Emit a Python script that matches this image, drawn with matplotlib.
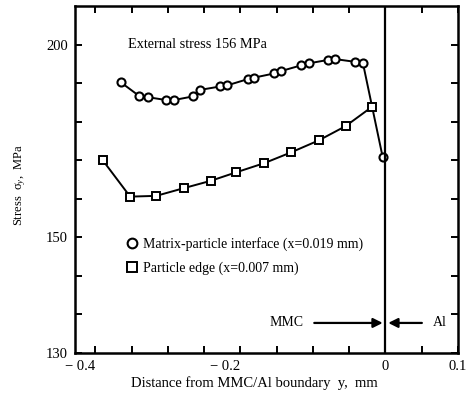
import numpy as np
import matplotlib
matplotlib.use('Agg')
from matplotlib import pyplot as plt

plt.rcParams['font.family'] = ['Liberation Serif', 'DejaVu Serif']
plt.rcParams['mathtext.fontset'] = 'custom'
plt.rcParams['mathtext.rm'] = 'Liberation Serif'
plt.rcParams['mathtext.it'] = 'Liberation Serif:italic'

# matrix-particle interface (circles)
circ_x = [-0.365, -0.340, -0.327, -0.303, -0.291, -0.266, -0.256, -0.228, -0.218,
          -0.190, -0.181, -0.153, -0.144, -0.116, -0.106, -0.079, -0.069, -0.042,
          -0.031, -0.004]
circ_y = [190.3, 186.8, 186.4, 185.7, 185.7, 186.6, 188.3, 189.2, 189.5,
          191.1, 191.5, 192.6, 193.2, 194.7, 195.2, 196.1, 196.3, 195.6,
          195.2, 171.0]

# particle edge (squares)
sq_x = [-0.390, -0.352, -0.316, -0.278, -0.241, -0.206, -0.167, -0.130, -0.092,
        -0.055, -0.018]
sq_y = [170.1, 160.6, 160.8, 162.8, 164.7, 166.9, 169.3, 172.1, 175.2,
        178.9, 184.0]

x_ticks = [-0.4, -0.35, -0.3, -0.25, -0.2, -0.15, -0.1, -0.05, 0, 0.05, 0.1]
x_labels = ['\u2212 0.4', '', '', '', '\u2212 0.2', '', '', '', '0', '', '0.1']
y_ticks = [130, 136.67, 143.33, 150, 160, 170, 180, 190, 200]
y_labels = ['130', '', '', '150', '', '', '', '', '200']


# the axis is squeezed below 150 (three ticks for 20 MPa)
def fwd(v):
    v = np.asarray(v, dtype=float)
    return np.where(v >= 150, v, 150 - (150 - v) * 1.5)


def inv(u):
    u = np.asarray(u, dtype=float)
    return np.where(u >= 150, u, 150 - (150 - u) / 1.5)


fig = plt.figure(figsize=(4.7, 3.94), dpi=100)
ax = fig.add_axes([0.1596, 0.1041, 0.8149, 0.8807])
ax.set_yscale('function', functions=(fwd, inv))

ax.plot(circ_x, circ_y, '-o', color='black', lw=1.4, ms=5.8, mfc='white', mew=1.5,
        label='Matrix-particle interface (x=0.019 mm)')
ax.plot(sq_x, sq_y, '-s', color='black', lw=1.4, ms=5.6, mfc='white', mew=1.4,
        label='Particle edge (x=0.007 mm)')
ax.axvline(0, color='black', lw=1.6)

ax.set_xlim(-0.428, 0.1)
ax.set_ylim(130, 210.1)
ax.set_xticks(x_ticks)
ax.set_xticklabels(x_labels, fontsize=10.5)
ax.set_yticks(y_ticks)
ax.set_yticklabels(y_labels, fontsize=10.5)
for lab in ax.get_xticklabels():
    if lab.get_text().startswith('\u2212'):
        lab.set_horizontalalignment('right')
ax.minorticks_off()
ax.tick_params(direction='in', length=5, width=1.4, top=True, right=True, pad=5)
for s in ax.spines.values():
    s.set_linewidth(1.8)

ax.set_xlabel('Distance from MMC/Al boundary  y,  mm', fontsize=10.5)
ax.xaxis.set_label_coords(0.469, -0.068)
ax.set_ylabel('Stress  \u03c3$_{y}$,  MPa', fontsize=9)
ax.yaxis.set_label_coords(-0.122, 0.484)

ax.text(-0.355, 200, 'External stress 156 MPa', fontsize=10.3, va='center')

leg = ax.legend(loc='upper left', bbox_to_anchor=(0.135, 0.35), frameon=False,
                fontsize=10, handlelength=0.0, handletextpad=0.75, labelspacing=0.75,
                borderaxespad=0)
for h in leg.legend_handles:
    h.set_linestyle('none')
    h.set_markersize(7)

ax.annotate('', xy=(0, 135.2), xytext=(-0.102, 135.2),
            arrowprops=dict(arrowstyle='-|>', color='black', lw=1.6, mutation_scale=14))
ax.text(-0.113, 135.2, 'MMC', fontsize=10, ha='right', va='center')
ax.annotate('', xy=(0, 135.2), xytext=(0.054, 135.2),
            arrowprops=dict(arrowstyle='-|>', color='black', lw=1.6, mutation_scale=14))
ax.text(0.066, 135.2, 'Al', fontsize=10, ha='left', va='center')

fig.savefig('out.png', dpi=100)
